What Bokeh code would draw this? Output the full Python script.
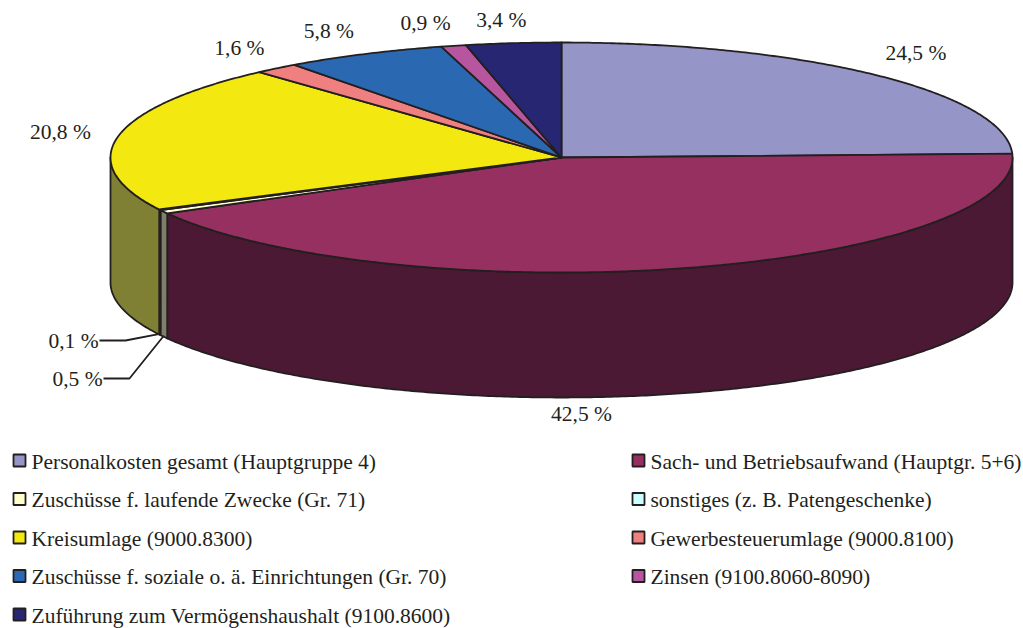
import math
from bokeh.plotting import figure
from bokeh.models import Range1d
from bokeh.core.properties import value
from bokeh.embed import file_html
from bokeh.resources import INLINE

# ---- data ----
categories = [
    "Personalkosten gesamt (Hauptgruppe 4)",
    "Sach- und Betriebsaufwand (Hauptgr. 5+6)",
    "Zuschüsse f. laufende Zwecke (Gr. 71)",
    "sonstiges (z. B. Patengeschenke)",
    "Kreisumlage (9000.8300)",
    "Gewerbesteuerumlage (9000.8100)",
    "Zuschüsse f. soziale o. ä. Einrichtungen (Gr. 70)",
    "Zinsen (9100.8060-8090)",
    "Zuführung zum Vermögenshaushalt (9100.8600)",
]
shares = [24.5, 42.5, 0.5, 0.1, 20.8, 1.6, 5.8, 0.9, 3.4]
labels = ["24,5 %", "42,5 %", "0,5 %", "0,1 %", "20,8 %", "1,6 %", "5,8 %", "0,9 %", "3,4 %"]

# ---- style ----
top_colors = ["#9595c8", "#963061", "#ffffcc", "#ccffff", "#f3e80f",
              "#f08080", "#2a68b2", "#b8559f", "#262672"]
side_colors = ["#4a4a64", "#4b1933", "#80806a", "#668080", "#7f8033",
               "#784040", "#153459", "#5c2a50", "#131339"]
OUT = "#231f20"
FONT = value("Liberation Serif")
FS = "21.5px"

CX, CY, RX, RY, DEPTH = 561, 157, 451, 115, 125

W, H = 1023, 628
p = figure(width=W, height=H, output_backend="svg", toolbar_location=None,
           x_range=Range1d(0, W), y_range=Range1d(H, 0), min_border=0)
p.axis.visible = False
p.grid.visible = False
p.outline_line_color = None

total = sum(shares)
angles = []
cum = 0.0
for s in shares:
    a0 = 90 - 360 * cum / total
    cum += s
    a1 = 90 - 360 * cum / total
    angles.append((a0, a1))  # clockwise: a0 > a1


def ell(t, dy=0.0):
    r = math.radians(t)
    return CX + RX * math.cos(r), CY - RY * math.sin(r) + dy


# side walls (front half: math angle in [-180, 0])
wx, wy, wc = [], [], []
for i, (a0, a1) in enumerate(angles):
    hi, lo = min(a0, 0), max(a1, -180)
    if hi <= lo:
        continue
    n = max(2, int((hi - lo) * 2))
    ts = [hi - (hi - lo) * k / n for k in range(n + 1)]
    top = [ell(t) for t in ts]
    bot = [ell(t, DEPTH) for t in reversed(ts)]
    pts = top + bot
    wx.append([q[0] for q in pts])
    wy.append([q[1] for q in pts])
    wc.append(side_colors[i])
p.patches(wx, wy, fill_color=wc, line_color=OUT, line_width=1.8, line_join="round")

# top faces
fx, fy = [], []
for a0, a1 in angles:
    n = max(2, int((a0 - a1) * 2))
    ts = [a0 - (a0 - a1) * k / n for k in range(n + 1)]
    pts = [(CX, CY)] + [ell(t) for t in ts]
    fx.append([q[0] for q in pts])
    fy.append([q[1] for q in pts])
p.patches(fx, fy, fill_color=top_colors, line_color=OUT, line_width=1.8, line_join="round")

# labels: outside the rim at each slice's mid angle, with small nudges
label_dx = [0, 0, 0, 0, 0, 0, -10, -14, -6]
label_dy = [-4, 0, 0, 0, 0, -1, 0, 2, 2]
lx, ly = [], []
for i, (a0, a1) in enumerate(angles):
    m = math.radians((a0 + a1) / 2)
    lx.append(CX + RX * 1.13 * math.cos(m) + label_dx[i])
    ly.append(CY - RY * 1.22 * math.sin(m) + label_dy[i])
# labels placed specially (bottom slice and tiny slices with leader lines)
lx[1], ly[1] = 581, 413
lx[3], ly[3] = 73, 340
lx[2], ly[2] = 77, 378
p.text(lx, ly, text=labels, text_font=FONT, text_font_size=FS, text_color=OUT,
       text_align="center", text_baseline="middle")

# leader lines for the tiny slices
for i, tx_end, ty in [(3, 99, 340), (2, 103, 378)]:
    a0, a1 = angles[i]
    ex, ey = ell((a0 + a1) / 2, DEPTH)
    p.line([tx_end, tx_end + 26, ex], [ty, ty, ey - 1], line_color=OUT, line_width=1.8)

# legend
rows_y = [460 + 38.5 * k for k in range(5)]
gx, gy, gc, tx, ty = [], [], [], [], []
for i, c in enumerate(categories):
    col, row = i % 2, i // 2
    sx = 19 if col == 0 else 638
    gx.append(sx)
    gy.append(rows_y[row])
    gc.append(top_colors[i])
    tx.append(sx + 12)
    ty.append(rows_y[row] + 1)
p.rect(gx, gy, width=12, height=12, fill_color=gc, line_color=OUT, line_width=1.8)
p.text(tx, ty, text=categories, text_font=FONT, text_font_size=FS, text_color=OUT,
       text_align="left", text_baseline="middle")

open("out.html", "w").write(file_html(p, INLINE))
